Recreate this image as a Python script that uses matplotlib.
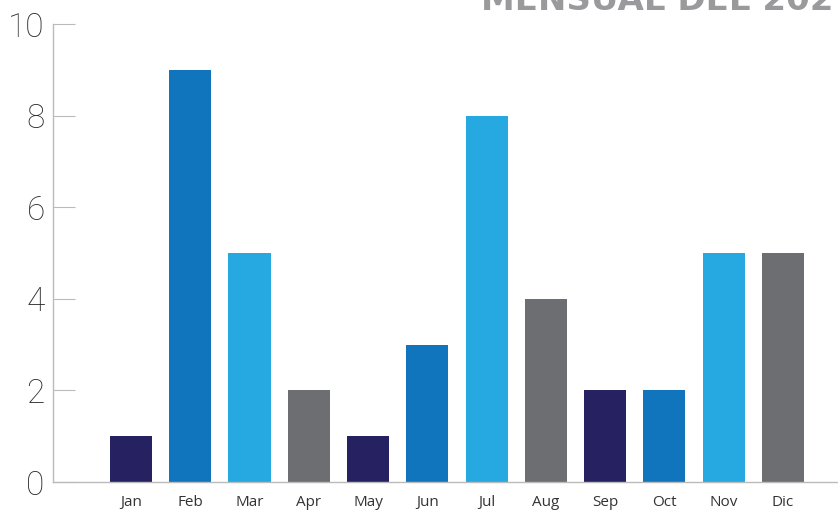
import matplotlib.pyplot as plt
import numpy as np

# data
months = ["Jan", "Feb", "Mar", "Apr", "May", "Jun", "Jul", "Aug", "Sep", "Oct", "Nov", "Dic"]
values = [1, 9, 5, 2, 1, 3, 8, 4, 2, 2, 5, 5]
bar_colors = ["#262262", "#1075bc", "#25a9e0", "#6d6e71",
              "#262262", "#1075bc", "#25a9e0", "#6d6e71",
              "#262262", "#1075bc", "#25a9e0", "#6d6e71"]
yticks = [0, 2, 4, 6, 8, 10]
title = "MENSUAL DEL 202"

fig = plt.figure(figsize=(8.38, 5.13), dpi=100)
ax = fig.add_axes([0.0632, 0.0604, 0.9368, 0.8926])

x = np.arange(len(months))
ax.bar(x, values, width=0.71, color=bar_colors, zorder=2)

ax.set_xlim(-1.316, 11.93)
ax.set_ylim(0, 10)

ax.set_yticks(yticks)
ax.set_yticklabels([str(v) for v in yticks], fontsize=24, color="#2b2b2b",
                   family="Roboto", fontweight="light")
ax.set_xticks(x)
ax.set_xticklabels(months, fontsize=11, color="#333333", family="Open Sans")

ax.tick_params(axis="y", direction="in", length=16, width=0.8, color="#bbbbbb", pad=6)
ax.tick_params(axis="x", length=0, pad=9)

for side in ["top", "right"]:
    ax.spines[side].set_visible(False)
for side in ["left", "bottom"]:
    ax.spines[side].set_color("#bbbbbb")
    ax.spines[side].set_linewidth(1.0)

fig.text(0.995, 1 - 10 / 513, title, ha="right", va="baseline",
         fontsize=24.5, fontweight="bold", color="#9a9a9c")

fig.savefig("out.png", dpi=100)
